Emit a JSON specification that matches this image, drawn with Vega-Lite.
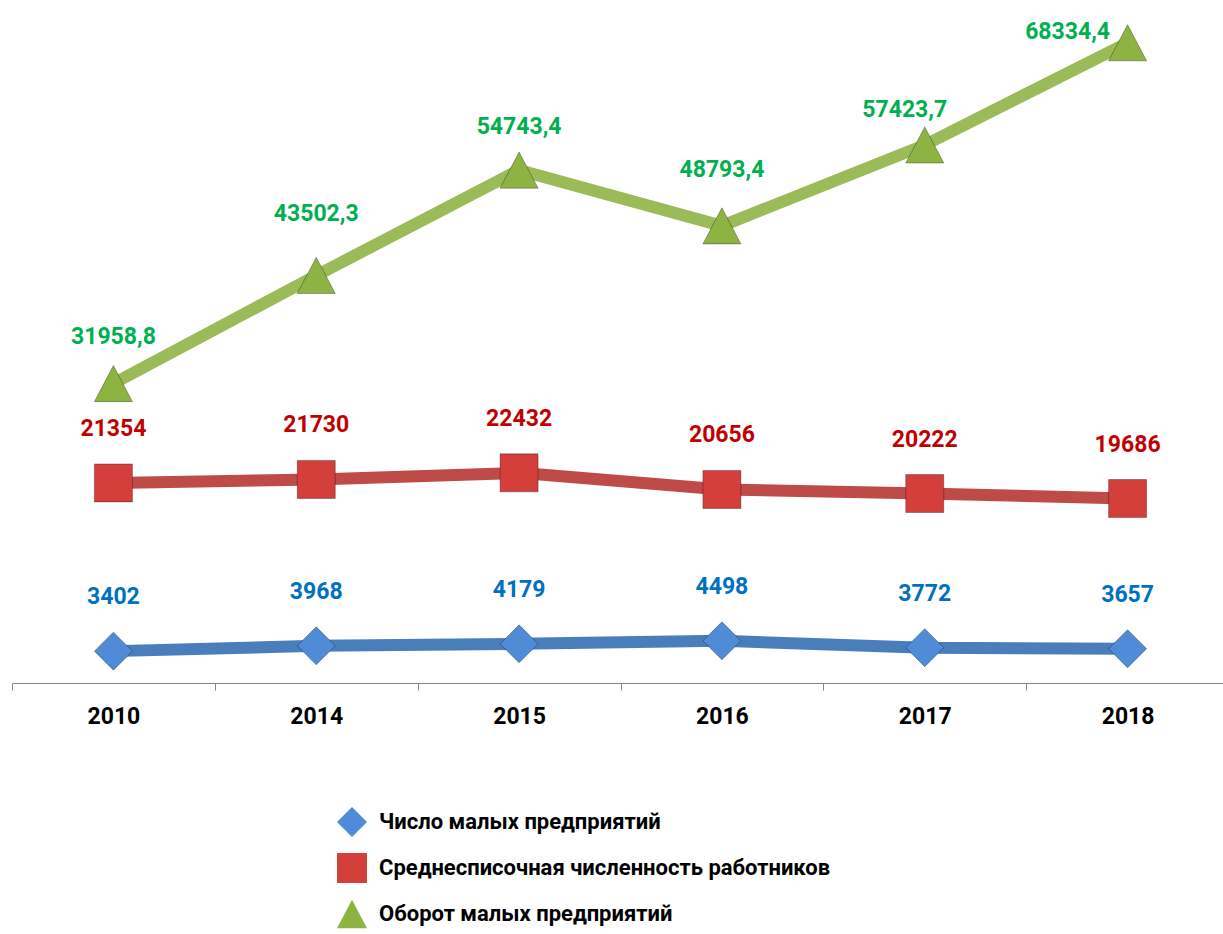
{
  "$schema": "https://vega.github.io/schema/vega-lite/v6.json",
  "autosize": "none",
  "width": 1211,
  "height": 683,
  "padding": {"left": 12, "top": 0, "right": 0, "bottom": 251},
  "background": "white",
  "config": {
    "view": {"stroke": null},
    "locale": {"number": {"decimal": ",", "thousands": "", "grouping": [3], "currency": ["", ""]}},
    "font": "Roboto",
    "axis": {"grid": false},
    "text": {"font": "Roboto", "fontSize": 23, "fontWeight": "bold"}
  },
  "data": {
    "values": [
      {"year": "2010", "series": "Число малых предприятий", "value": 3402},
      {"year": "2014", "series": "Число малых предприятий", "value": 3968},
      {"year": "2015", "series": "Число малых предприятий", "value": 4179},
      {"year": "2016", "series": "Число малых предприятий", "value": 4498},
      {"year": "2017", "series": "Число малых предприятий", "value": 3772},
      {"year": "2018", "series": "Число малых предприятий", "value": 3657},
      {"year": "2010", "series": "Среднесписочная численность работников", "value": 21354},
      {"year": "2014", "series": "Среднесписочная численность работников", "value": 21730},
      {"year": "2015", "series": "Среднесписочная численность работников", "value": 22432},
      {"year": "2016", "series": "Среднесписочная численность работников", "value": 20656},
      {"year": "2017", "series": "Среднесписочная численность работников", "value": 20222},
      {"year": "2018", "series": "Среднесписочная численность работников", "value": 19686},
      {"year": "2010", "series": "Оборот малых предприятий", "value": 31958.8},
      {"year": "2014", "series": "Оборот малых предприятий", "value": 43502.3},
      {"year": "2015", "series": "Оборот малых предприятий", "value": 54743.4},
      {"year": "2016", "series": "Оборот малых предприятий", "value": 48793.4},
      {"year": "2017", "series": "Оборот малых предприятий", "value": 57423.7},
      {"year": "2018", "series": "Оборот малых предприятий", "value": 68334.4}
    ]
  },
  "encoding": {
    "x": {
      "field": "year", "type": "ordinal",
      "scale": {"type": "band", "paddingInner": 0, "paddingOuter": 0, "range": [0, 1217]},
      "axis": {
        "title": null, "labelAngle": 0, "tickBand": "extent",
        "domainColor": "#868686", "tickColor": "#868686", "tickSize": 7, "tickWidth": 1, "domainWidth": 1,
        "labelFont": "Roboto",
        "labelFontSize": 23, "labelFontWeight": "bold", "labelColor": "#000000", "labelPadding": 15
      }
    },
    "y": {"field": "value", "type": "quantitative", "scale": {"domain": [0, 72900], "nice": false, "zero": true}, "axis": null}
  },
  "layer": [
    {
      "mark": {"type": "line", "strokeWidth": 12, "strokeJoin": "round"},
      "encoding": {
        "stroke": {
          "field": "series", "type": "nominal", "legend": null,
          "scale": {"domain": ["Оборот малых предприятий", "Среднесписочная численность работников", "Число малых предприятий"], "range": ["#9BBB59", "#BE4B48", "#4A7EBB"]}
        }
      }
    },
    {
      "mark": {"type": "point", "filled": true, "size": 1444, "opacity": 1, "stroke": "#000000", "strokeOpacity": 0.3, "strokeWidth": 1},
      "encoding": {
        "fill": {
          "field": "series", "type": "nominal",
          "scale": {"domain": ["Число малых предприятий", "Среднесписочная численность работников", "Оборот малых предприятий"], "range": ["#4F8BD6", "#D43F3C", "#8DB443"]},
          "legend": {
            "title": null, "direction": "vertical", "orient": "none", "legendX": 325, "legendY": 807, "padding": 0,
            "labelFont": "Roboto",
            "labelFontSize": 22, "labelFontWeight": "bold", "labelColor": "#000000", "labelOffset": 12, "rowPadding": 16,
            "symbolSize": 900, "symbolStrokeWidth": 0, "symbolOpacity": 1, "labelLimit": 1000
          }
        },
        "shape": {
          "field": "series", "type": "nominal",
          "scale": {"domain": ["Число малых предприятий", "Среднесписочная численность работников", "Оборот малых предприятий"], "range": ["diamond", "square", "M0,-0.95L1,0.95L-1,0.95Z"]}
        }
      }
    },
    {
      "transform": [{"filter": "datum.series !== 'Оборот малых предприятий'"}],
      "mark": {"type": "text", "dy": -54},
      "encoding": {
        "text": {"field": "value", "type": "quantitative", "format": "d"},
        "color": {
          "field": "series", "type": "nominal", "legend": null,
          "scale": {"domain": ["Число малых предприятий", "Среднесписочная численность работников"], "range": ["#0070C0", "#C00000"]}
        }
      }
    },
    {
      "transform": [{"filter": "datum.series === 'Оборот малых предприятий' && datum.year === '2010'"}],
      "mark": {"type": "text", "dy": -47, "color": "#00B050"},
      "encoding": {"text": {"field": "value", "type": "quantitative", "format": ".1f"}}
    },
    {
      "transform": [{"filter": "datum.series === 'Оборот малых предприятий' && datum.year === '2014'"}],
      "mark": {"type": "text", "dy": -61, "color": "#00B050"},
      "encoding": {"text": {"field": "value", "type": "quantitative", "format": ".1f"}}
    },
    {
      "transform": [{"filter": "datum.series === 'Оборот малых предприятий' && datum.year === '2015'"}],
      "mark": {"type": "text", "dy": -43, "color": "#00B050"},
      "encoding": {"text": {"field": "value", "type": "quantitative", "format": ".1f"}}
    },
    {
      "transform": [{"filter": "datum.series === 'Оборот малых предприятий' && datum.year === '2016'"}],
      "mark": {"type": "text", "dy": -56, "color": "#00B050"},
      "encoding": {"text": {"field": "value", "type": "quantitative", "format": ".1f"}}
    },
    {
      "transform": [{"filter": "datum.series === 'Оборот малых предприятий' && datum.year === '2017'"}],
      "mark": {"type": "text", "dy": -35, "dx": -20, "color": "#00B050"},
      "encoding": {"text": {"field": "value", "type": "quantitative", "format": ".1f"}}
    },
    {
      "transform": [{"filter": "datum.series === 'Оборот малых предприятий' && datum.year === '2018'"}],
      "mark": {"type": "text", "dy": -11, "dx": -60, "color": "#00B050"},
      "encoding": {"text": {"field": "value", "type": "quantitative", "format": ".1f"}}
    }
  ]
}
